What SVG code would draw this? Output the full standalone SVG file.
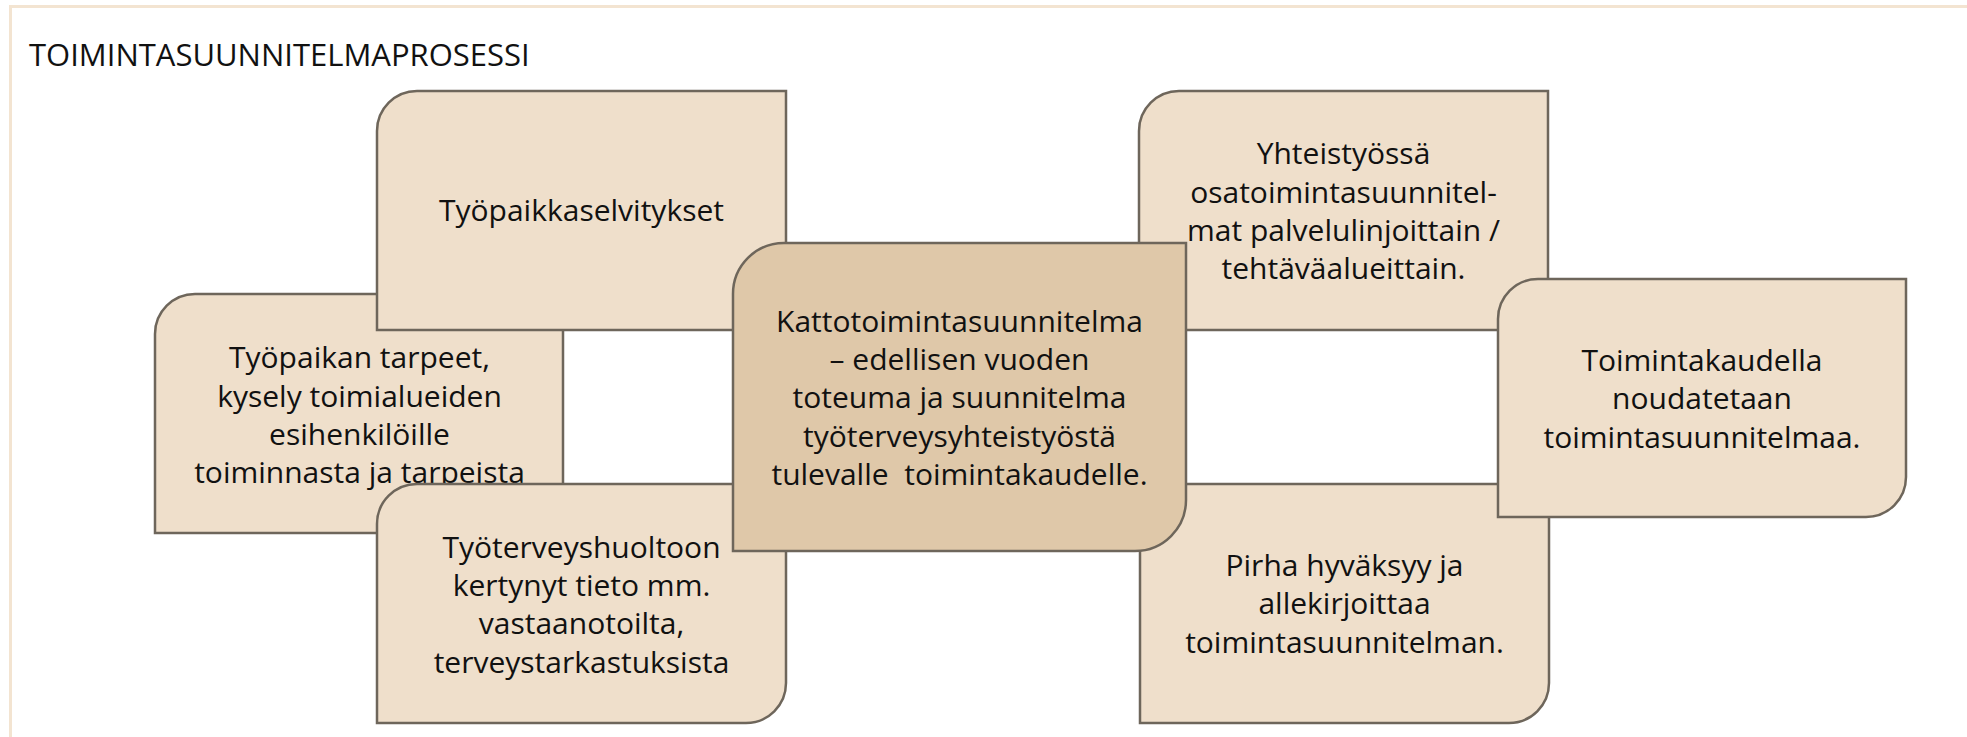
<svg xmlns="http://www.w3.org/2000/svg" width="1967" height="737" viewBox="0 0 1967 737">
  <style>
    .box { fill: #EFDFCB; stroke: #6E665B; stroke-width: 2.5; }
    .core { fill: #DFC8A9; stroke: #6E665B; stroke-width: 2.5; }
    .t { font-family: "Open Sans", "Noto Sans", "DejaVu Sans", sans-serif; font-size: 30px; fill: #111111; text-anchor: middle; white-space: pre; }
    .title { font-family: "Open Sans", "Noto Sans", "DejaVu Sans", sans-serif; font-size: 31px; fill: #111111; }
  </style>
  <rect x="0" y="0" width="1967" height="737" fill="#FFFFFF"/>
  <rect x="10.5" y="6.5" width="2000" height="800" fill="none" stroke="#F3E4D1" stroke-width="3"/>
  <text class="title" x="29" y="66">TOIMINTASUUNNITELMAPROSESSI</text>

  <g id="connectors"></g>

  <g id="node-tarpeet">
    <path class="box" d="M155,334 A40,40 0 0 1 195,294 H563 V493 A40,40 0 0 1 523,533 H155 Z"/>
    <text class="t" x="359.5" y="368.3">Työpaikan tarpeet,</text>
    <text class="t" x="359.5" y="406.7">kysely toimialueiden</text>
    <text class="t" x="359.5" y="445">esihenkilöille</text>
    <text class="t" x="359.5" y="483.3">toiminnasta ja tarpeista</text>
  </g>

  <g id="node-selvitykset">
    <path class="box" d="M377,131 A40,40 0 0 1 417,91 H786 V290 A40,40 0 0 1 746,330 H377 Z"/>
    <text class="t" x="581.5" y="221">Työpaikkaselvitykset</text>
  </g>

  <g id="node-tth">
    <path class="box" d="M377,524 A40,40 0 0 1 417,484 H786 V683 A40,40 0 0 1 746,723 H377 Z"/>
    <text class="t" x="581.5" y="557.7">Työterveyshuoltoon</text>
    <text class="t" x="581.5" y="596">kertynyt tieto mm.</text>
    <text class="t" x="581.5" y="634.3">vastaanotoilta,</text>
    <text class="t" x="581.5" y="672.7">terveystarkastuksista</text>
  </g>

  <g id="node-yhteistyo">
    <path class="box" d="M1139,131 A40,40 0 0 1 1179,91 H1548 V290 A40,40 0 0 1 1508,330 H1139 Z"/>
    <text class="t" x="1343.5" y="164.3">Yhteistyössä</text>
    <text class="t" x="1343.5" y="202.7">osatoimintasuunnitel-</text>
    <text class="t" x="1343.5" y="241">mat palvelulinjoittain /</text>
    <text class="t" x="1343.5" y="279.3">tehtäväalueittain.</text>
  </g>

  <g id="node-pirha">
    <path class="box" d="M1140,524 A40,40 0 0 1 1180,484 H1549 V683 A40,40 0 0 1 1509,723 H1140 Z"/>
    <text class="t" x="1344.5" y="576">Pirha hyväksyy ja</text>
    <text class="t" x="1344.5" y="614.3">allekirjoittaa</text>
    <text class="t" x="1344.5" y="652.7">toimintasuunnitelman.</text>
  </g>

  <g id="node-toimintakausi">
    <path class="box" d="M1498,319 A40,40 0 0 1 1538,279 H1906 V477 A40,40 0 0 1 1866,517 H1498 Z"/>
    <text class="t" x="1702" y="371">Toimintakaudella</text>
    <text class="t" x="1702" y="409.3">noudatetaan</text>
    <text class="t" x="1702" y="447.7">toimintasuunnitelmaa.</text>
  </g>

  <g id="node-katto">
    <path class="core" d="M733,294 A51,51 0 0 1 784,243 H1186 V500 A51,51 0 0 1 1135,551 H733 Z"/>
    <text class="t" x="959.5" y="331.7">Kattotoimintasuunnitelma</text>
    <text class="t" x="959.5" y="370">– edellisen vuoden</text>
    <text class="t" x="959.5" y="408.3">toteuma ja suunnitelma</text>
    <text class="t" x="959.5" y="446.7">työterveysyhteistyöstä</text>
    <text class="t" x="959.5" y="485">tulevalle  toimintakaudelle.</text>
  </g>
</svg>
